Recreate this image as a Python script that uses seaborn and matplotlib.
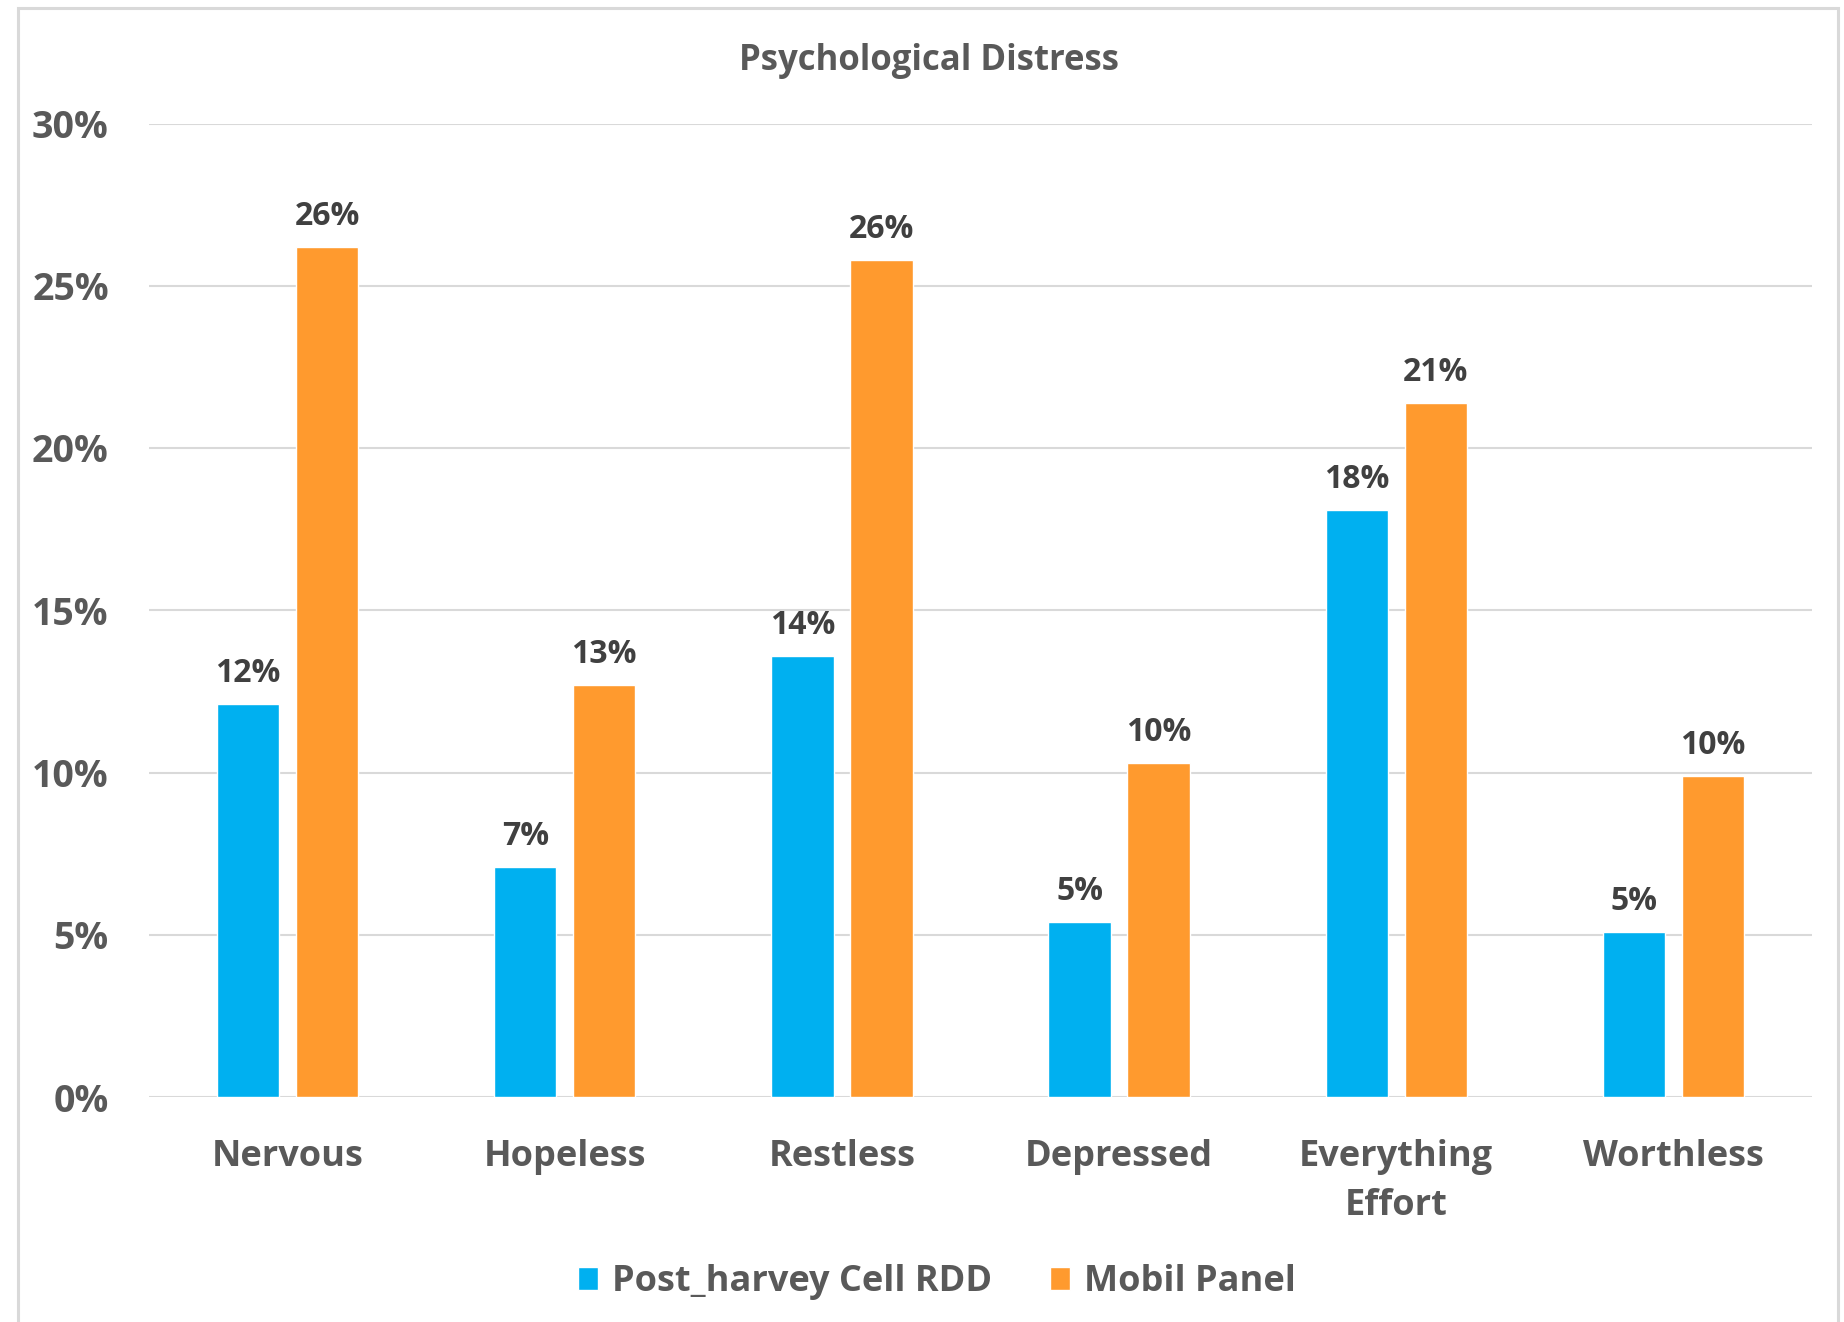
import matplotlib
matplotlib.use("Agg")
import matplotlib.pyplot as plt
import seaborn as sns
import pandas as pd
from matplotlib.ticker import FuncFormatter
from matplotlib.patches import Rectangle

categories = ["Nervous", "Hopeless", "Restless", "Depressed", "Everything\nEffort", "Worthless"]
series_names = ["Post_harvey Cell RDD", "Mobil Panel"]
post_harvey = [0.121, 0.071, 0.136, 0.054, 0.181, 0.051]
mobil_panel = [0.262, 0.127, 0.258, 0.103, 0.214, 0.099]
y_ticks = [0, 0.05, 0.10, 0.15, 0.20, 0.25, 0.30]
title = "Psychological Distress"
colors = ["#00B0F0", "#FF9A2E"]

df = pd.DataFrame({
    "category": categories * 2,
    "series": [series_names[0]] * len(categories) + [series_names[1]] * len(categories),
    "value": post_harvey + mobil_panel,
})

sns.set_style("white")
plt.rcParams["font.family"] = ["Open Sans", "DejaVu Sans"]

W, H = 1844, 1322
fig = plt.figure(figsize=(W / 100, H / 100), dpi=100)
left, right = 149 / W, 1812 / W
bottom, top = 1 - 1097 / H, 1 - 123.5 / H
ax = fig.add_axes([left, bottom, right - left, top - bottom])

sns.barplot(data=df, x="category", y="value", hue="series", order=categories,
            hue_order=series_names, palette=colors, width=0.57, gap=0.21,
            saturation=1, ax=ax, errorbar=None)

handles, labels = ax.get_legend_handles_labels()
if ax.get_legend() is not None:
    ax.get_legend().remove()

for cont in ax.containers:
    ax.bar_label(cont, labels=[f"{v*100:.0f}%" for v in cont.datavalues], padding=10,
                 fontsize=23, fontweight="bold", color="#404040")

ax.set_xlim(-0.5, len(categories) - 0.5)
ax.set_ylim(0, 0.30)
ax.set_yticks(y_ticks)
ax.yaxis.set_major_formatter(FuncFormatter(lambda v, _: f"{v*100:.0f}%"))
ax.set_xlabel("")
ax.set_ylabel("")
ax.yaxis.grid(True, color="#D9D9D9", linewidth=1.5)
ax.xaxis.grid(False)
ax.set_axisbelow(True)
for s in ax.spines.values():
    s.set_visible(False)
ax.tick_params(axis="y", length=0, pad=29, labelsize=27, labelcolor="#595959")
ax.tick_params(axis="x", length=0, pad=30, labelsize=26, labelcolor="#595959")
for lbl in ax.get_yticklabels():
    lbl.set_fontweight("bold")
for lbl in ax.get_xticklabels():
    lbl.set_fontweight("bold")
    lbl.set_linespacing(1.5)

fig.text(929 / W, 1 - 61 / H, title, ha="center", va="center", fontsize=25,
         fontweight="bold", color="#595959",
         family=["Liberation Sans Narrow", "Open Sans", "DejaVu Sans"])

fig.legend(handles, labels, loc="center", bbox_to_anchor=(937 / W, 1 - 1282 / H),
           ncol=2, frameon=False, handlelength=0.55, handleheight=0.6,
           handletextpad=0.4, columnspacing=1.6, labelcolor="#595959",
           prop={"family": ["Open Sans", "DejaVu Sans"], "weight": "bold", "size": 26})

fig.add_artist(Rectangle((18 / W, -0.05), (1838 - 18) / W, 1 - 8 / H + 0.05,
                         transform=fig.transFigure, fill=False,
                         edgecolor="#D9D9D9", linewidth=2.2))

fig.savefig("out.png", dpi=100)
